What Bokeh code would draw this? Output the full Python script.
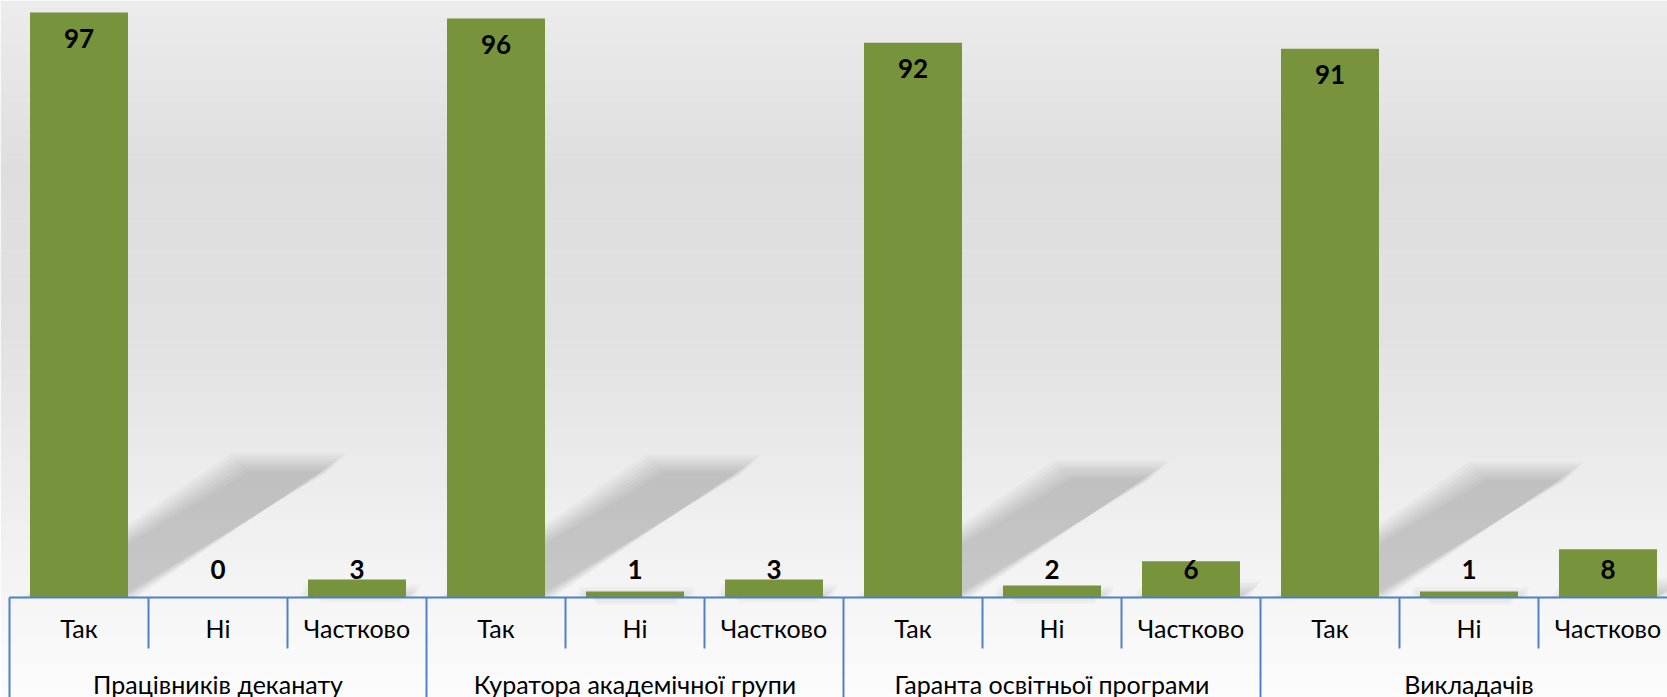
from bokeh.plotting import figure
from bokeh.models import ColumnDataSource, Range1d
from bokeh.core.properties import value
from bokeh.embed import file_html
from bokeh.resources import INLINE

# ---- data ----
groups = ["Працівників деканату", "Куратора академічної групи",
          "Гаранта освітньої програми", "Викладачів"]
answers = ["Так", "Ні", "Частково"]
values_dekanat = [97, 0, 3]
values_kurator = [96, 1, 3]
values_garant = [92, 2, 6]
values_vykladach = [91, 1, 8]
series = [values_dekanat, values_kurator, values_garant, values_vykladach]

# ---- layout constants (pixels) ----
W, H = 1667, 697
PX_PER_UNIT = 6.031          # vertical pixels per percent
SLOT_PX = 139.0              # horizontal pixels per bar slot
BASE_PX = 597                # baseline distance from top of frame
LEFT_PX = 9                  # first slot boundary from left of frame
y_top = BASE_PX / PX_PER_UNIT
y_bot = -(H - BASE_PX) / PX_PER_UNIT
x_left = -LEFT_PX / SLOT_PX
x_right = x_left + W / SLOT_PX

p = figure(width=W, height=H, output_backend="svg", toolbar_location=None,
           x_range=Range1d(x_left, x_right), y_range=Range1d(y_bot, y_top),
           min_border=0, min_border_left=0, min_border_right=0,
           min_border_top=0, min_border_bottom=0)
p.axis.visible = False
p.grid.visible = False
p.outline_line_color = None
p.background_fill_color = "#FFFFFF"
p.border_fill_color = "#FFFFFF"

# ---- background gradient (decoration) ----
stops = [(0, 236), (170, 222), (330, 225), (480, 236), (597, 245), (697, 252)]
n_bands = 120
bt, bb, bc = [], [], []
for i in range(n_bands):
    py0 = H * i / n_bands
    py1 = H * (i + 1) / n_bands
    pm = (py0 + py1) / 2
    for (a, ca), (b, cb) in zip(stops[:-1], stops[1:]):
        if a <= pm <= b:
            g = int(round(ca + (cb - ca) * (pm - a) / (b - a)))
            break
    bt.append((BASE_PX - py0) / PX_PER_UNIT)
    bb.append((BASE_PX - py1 - 0.5) / PX_PER_UNIT)
    bc.append("#%02x%02x%02x" % (g, g, g))
p.quad(left=x_left, right=x_right, top=bt, bottom=bb, fill_color=bc,
       line_color=None)

# ---- bar data ----
xs, vals = [], []
for gi, vs in enumerate(series):
    for ai, v in enumerate(vs):
        xs.append(gi * 3 + ai + 0.5)
        vals.append(v)
bar_w = 0.705

# ---- perspective shadows (decoration derived from bars) ----
n_layers = 8
for k in range(n_layers):
    e = 9 - k * 18 / (n_layers - 1)   # expansion in px
    pxs, pys = [], []
    for x, v in zip(xs, vals):
        if v <= 0:
            continue
        h = 0.231 * v
        s = 0.01557 * v
        ex = e / SLOT_PX
        ey = e / PX_PER_UNIT
        xl = x - bar_w / 2 - ex
        xr = x + bar_w / 2 + ex
        pxs.append([xl, xr, xr + s, xl + s])
        pys.append([0, 0, h + ey, h + ey])
    p.patches(pxs, pys, fill_color="#000000", fill_alpha=0.022, line_color=None)

# ---- bars ----
src = ColumnDataSource(dict(x=xs, top=vals,
                            lab=[str(v) for v in vals],
                            ly=[max(v - 26 / PX_PER_UNIT, 28 / PX_PER_UNIT) for v in vals]))
p.vbar(x="x", top="top", bottom=0, width=bar_w, source=src,
       fill_color="#77933C", line_color=None)
p.text(x="x", y="ly", text="lab", source=src, text_align="center",
       text_baseline="middle", text_font=value("Lato"), text_font_style="bold",
       text_font_size="26px", text_color="#000000")

# ---- category labels ----
lx, ltext = [], []
for gi in range(len(groups)):
    for ai, a in enumerate(answers):
        lx.append(gi * 3 + ai + 0.5)
        ltext.append(a)
p.text(x=lx, y=-30 / PX_PER_UNIT, text=ltext, text_align="center",
       text_baseline="middle", text_font=value("Lato"), text_font_size="25px",
       text_color="#000000")
gx = [gi * 3 + 1.5 for gi in range(len(groups))]
p.text(x=gx, y=-86 / PX_PER_UNIT, text=groups, text_align="center",
       text_baseline="middle", text_font=value("Lato"), text_font_size="25px",
       text_color="#000000")

# ---- axis table lines ----
line_col = "#4F81C8"
n_slots = len(groups) * len(answers)
p.segment(x0=[0], x1=[n_slots], y0=[0], y1=[0], line_color=line_col, line_width=2)
sx, sy1 = [], []
for i in range(n_slots + 1):
    sx.append(i)
    sy1.append(y_bot if i % 3 == 0 else -51 / PX_PER_UNIT)
p.segment(x0=sx, x1=sx, y0=[0] * len(sx), y1=sy1, line_color=line_col,
          line_width=2)

open("out.html", "w").write(file_html(p, INLINE))
